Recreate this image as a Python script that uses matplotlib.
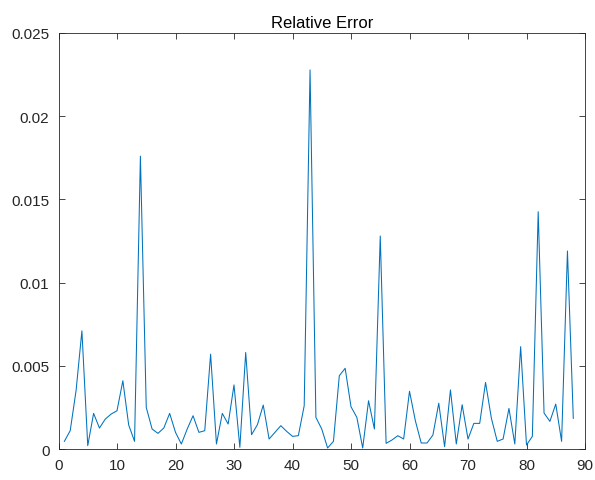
import numpy as np
import matplotlib.pyplot as plt

# relative error per sample index
idx = np.arange(1, 89)
rel_err = [
    0.00046, 0.0011, 0.0035, 0.0071, 0.0002, 0.00214, 0.00126, 0.0018, 0.0021, 0.0023,
    0.0041, 0.00144, 0.00046, 0.0176, 0.0025, 0.0012, 0.00094, 0.00126, 0.00214, 0.001,
    0.0003, 0.0012, 0.002, 0.001, 0.0011, 0.0057, 0.0003, 0.00214, 0.0015, 0.00385,
    0.0001, 0.0058, 0.00086, 0.00146, 0.00264, 0.0006, 0.001, 0.0014, 0.00106, 0.00076,
    0.0008, 0.0026, 0.02278, 0.0019, 0.0012, 0.00006, 0.00046, 0.0044, 0.00485, 0.00254,
    0.0019, 0.00006, 0.0029, 0.0012, 0.0128, 0.00034, 0.00054, 0.0008, 0.0006, 0.00347,
    0.0017, 0.00036, 0.00036, 0.00084, 0.00275, 0.00014, 0.00355, 0.0003, 0.00266, 0.0006,
    0.00154, 0.00154, 0.004, 0.00184, 0.00046, 0.0006, 0.00244, 0.0003, 0.00615, 0.00024,
    0.00076, 0.01426, 0.00216, 0.00166, 0.0027, 0.00046, 0.0119, 0.00184,
]
xticks = [0, 10, 20, 30, 40, 50, 60, 70, 80, 90]
yticks = [0, 0.005, 0.01, 0.015, 0.02, 0.025]
ylabels = ["0", "0.005", "0.01", "0.015", "0.02", "0.025"]

plt.rcParams['font.family'] = ['Liberation Sans', 'DejaVu Sans']
axcol = "#262626"

fig = plt.figure(figsize=(5.95, 4.81), dpi=100)
ax = fig.add_axes([58.5 / 595, 1 - 450 / 481, (585 - 58.5) / 595, (450 - 34) / 481])
ax.plot(idx, rel_err, color="#0072BD", linewidth=0.75)

ax.set_xlim(0, 90)
ax.set_ylim(0, 0.025)
ax.set_xticks(xticks)
ax.set_yticks(yticks)
ax.set_yticklabels(ylabels)
ax.tick_params(direction="in", top=True, right=True, length=4.5, width=0.6,
               colors=axcol, labelsize=11, pad=6.5)
for s in ax.spines.values():
    s.set_color(axcol)
    s.set_linewidth(0.6)
ax.set_title("Relative Error", fontsize=12, color="black", pad=4)

fig.savefig("out.png", dpi=100, facecolor="white")
